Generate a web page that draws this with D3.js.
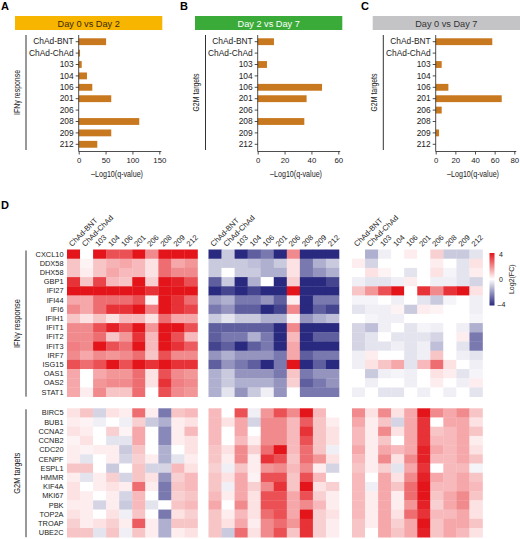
<!DOCTYPE html>
<html>
<head>
<meta charset="utf-8">
<script src="https://cdn.jsdelivr.net/npm/d3@7"></script>
<style>
  body { margin: 0; background: #fff; }
  svg { display: block; font-family: "Liberation Sans", Arial, sans-serif; }
  .narrow { font-family: "Liberation Sans Narrow", "Liberation Sans", sans-serif; }
  .axis path, .axis line { stroke: #222; stroke-width: 0.8; }
  .axis text { fill: #222; }
</style>
</head>
<body>
<svg id="fig" width="520" height="539"></svg>
<script>
// ---- data ----
const samples = ['ChAd-BNT', 'ChAd-ChAd', '103', '104', '106', '201', '206', '208', '209', '212'];

const barDay0vs2 = [51, 2.5, 5.6, 15.4, 25.3, 60.6, 0, 112.7, 60.6, 34.6];
const barDay2vs7 = [12.1, 0, 6.9, 0, 47.9, 36.4, 0, 34.7, 0, 0];
const barDay0vs7 = [57.6, 0, 6.1, 0, 12.9, 67.2, 6.1, 0, 3.4, 0];

const ifnGenes = ['CXCL10', 'DDX58', 'DHX58', 'GBP1', 'IFI27', 'IFI44', 'IFI6', 'IFIH1',
  'IFIT1', 'IFIT2', 'IFIT3', 'IRF7', 'ISG15', 'OAS1', 'OAS2', 'STAT1'];
const g2mGenes = ['BIRC5', 'BUB1', 'CCNA2', 'CCNB2', 'CDC20', 'CENPF', 'ESPL1', 'HMMR',
  'KIF4A', 'MKI67', 'PBK', 'TOP2A', 'TROAP', 'UBE2C'];

// log2 fold change, rows = genes, cols = samples
const ifnDay0vs2 = [
  [4, 0, 4, 3, 3, 4, 2, 4, 4, 4],
  [1, 0.2, 1, 1.3, 1.5, 1.2, 0.5, 2.5, 1.5, 1.8],
  [1, 0.3, 1, 1.5, 1.2, 1.2, 0.5, 2.5, 2, 2],
  [3.5, 1, 3.2, 1.2, 1, 4, 0.8, 4, 3.8, 3],
  [4, 4, 4, 4, 4, 4, 3.5, 4, 4, 4],
  [1.5, 1.5, 2.5, 2.5, 2.5, 3, 0.2, 4, 3.5, 2.5],
  [2, 1.5, 2.5, 3.5, 3.5, 4, 2.2, 4, 3.5, 3.2],
  [1, 0.5, 1, 0.5, 1.2, 1.2, 0.5, 2.5, 1.5, 1.5],
  [2, 2, 3, 3.8, 3, 4, 1.8, 4, 4, 3],
  [2, 2, 2.5, 1, 1.8, 3.5, 1.2, 4, 3, 1.2],
  [2.2, 2, 4, 3, 2.5, 4, 1.2, 4, 3.5, 2.8],
  [2, 1.5, 2, 1.8, 2, 2.5, 1, 3, 2, 2],
  [3, 2.5, 3, 4, 3, 4, 3.5, 4, 3.5, 3.5],
  [1.5, 0, 1.5, 1.8, 1.8, 2.5, 0.5, 3, 2, 1.8],
  [1.5, 0, 1.8, 2, 2, 2.5, 0.5, 3.5, 2.2, 2],
  [1.5, 0.3, 2, 1, 1, 2.5, 0, 3, 2, 1.8]
];
const ifnDay2vs7 = [
  [-4, -1, -4, -3, -2.5, -4, 2, -4, -4, -4],
  [-1, -1, -1, -1.2, -1.5, -1, 0.5, -2.5, -1.5, -1],
  [-1, 0, -1, -1, -1.5, -1.5, 0.5, -2.5, -2, -1.5],
  [-3, -1, -4, -1.5, 0, -4, 0.8, -4, -4, -3.5],
  [-4, -3.5, -4, -3.5, -4, -4, 4, -4, -4, -4],
  [-1.8, -1.5, -2.5, -2.5, -2, -3, 0.3, -4, -2.5, -2.5],
  [-2.5, -2, -3, -3, -4, -3.5, 2, -4, -3, -3.5],
  [-1, -0.5, -1, -1, -1.5, -1.5, 0.2, -2, -1.5, -1.2],
  [-3, -3, -3, -3, -3, -4, 2, -4, -4, -4],
  [-3, -2.5, -2.5, -1.5, -2.5, -4, 1.2, -4, -3, -3],
  [-3.5, -3, -4, -3, -2.5, -4, 1.5, -4, -4, -4],
  [-2, -1.5, -2, -2, -2, -2.5, 1.5, -3, -2.5, -2.5],
  [-3, -2, -2.5, -3, -4, -2.5, 4, -4, -3, -4],
  [-1.5, -1, -2, -2, -2, -2.5, 1, -2.5, -2, -2],
  [-1.5, -1, -1.5, -1.5, -1.5, -2, 0.8, -3, -2.5, -2],
  [-1.5, -0.5, -2, -1, -0.3, -2, 0, -2.5, -2.5, -2.5]
];
const ifnDay0vs7 = [
  [0, -1.5, -0.3, 0, 0.3, 0, 0.8, -1, -1, -0.5],
  [0.3, -0.8, 0, 0, 0, 0, 0.3, 0, -0.5, 0.5],
  [0, 0.5, 0.2, 0, -0.5, 0, 0.5, -0.2, -0.5, 0.3],
  [-0.3, -0.5, -0.5, -0.3, 0.3, 0, -0.3, -0.3, -0.5, -0.8],
  [1, 1.8, 3, 4, 0, 3.5, 2, 3.5, 4, 0.5],
  [-0.2, -0.2, 0, -0.3, 0, -0.5, -1, -0.2, 0, -0.3],
  [-0.5, -0.3, -0.3, 0.2, -1, 0.3, 0.2, 0, 0, -0.3],
  [0, -0.2, -0.3, -0.3, 0, 0, 0, 0, 0, -0.2],
  [-0.8, -1.2, -0.3, 0, -0.5, -0.2, -0.3, 0, -0.3, -1.5],
  [-0.8, -0.5, 0, -0.5, -0.5, -0.5, -0.8, 0, 0.3, -2.5],
  [-0.8, -0.5, -0.5, -0.3, -0.5, -0.3, -1.2, 0, -0.5, -2.5],
  [-0.3, 0.3, 0, 0, -0.5, -0.3, 1, 0, -0.3, -0.5],
  [-0.3, 0.5, 1, 1.5, -0.5, 1.2, 2.5, 0.5, 0, -0.3],
  [0, -1, -0.3, -0.2, -0.3, 0, 0.5, 0.3, -0.5, -0.2],
  [0, -0.3, 0, 0, -0.3, 0, 0.3, 0, -0.3, 0.3],
  [-0.3, 0, -0.5, -0.5, 0, -0.3, 0, -0.3, 0, -0.5]
];
const g2mDay0vs2 = [
  [0.5, 1, -0.8, 0.5, 0.3, 2.5, 0.3, -2.5, 1, 1.2],
  [0.3, 0.2, -0.3, 0, -0.3, 0.8, -1, -1.5, 0.3, 0.5],
  [0.5, 0.3, 0, 0.8, 0.2, 1.5, 0, -2.2, 0.3, 1.2],
  [0.2, 0.5, 0, -0.5, -0.5, 1.5, 0, -2.2, 0.3, 0.5],
  [0.3, 0.2, 0.3, 0.3, -1, 1, 0, -1.5, 0, 0.5],
  [0.3, -0.5, 0, 0.3, -0.8, 0.8, 0.3, -1.5, -0.5, 0.3],
  [1, 1, 0, -1, 0, 1, -0.8, -0.8, 1.2, 0.5],
  [0.3, -0.5, 0.3, 0.8, -0.8, 1, 0.5, -2, 0.8, 1.2],
  [0.5, 0, 0.3, 0.5, 0.3, 2.5, 0.3, -2.5, 1, 1.2],
  [0.5, 0.3, 0, 0.3, -0.8, 1.2, 0, -2.5, 0.8, 1],
  [0.3, 0.3, -0.8, 0.3, -1, 1.2, -0.5, 0, 1, 1.2],
  [0.5, 0.3, 0, 0.5, -0.3, 1, 0, -2.5, 0.5, 0.8],
  [0.8, 0.3, 0.5, 0.8, 0.3, 2.8, 0.3, -1.5, 1, 1],
  [1, 1, -0.5, 1, -0.3, 1, 0.3, -1.5, 0.3, 0.5]
];
const g2mDay2vs7 = [
  [1.2, 0, 3, -0.3, 1.8, 3, 2, 4, 1.2, 0],
  [1.2, 0.5, 1.5, -0.8, 2, 2, 1.2, 2.8, 1, 0.3],
  [1.2, 0, 1.5, 0, 2, 2, 1.2, 3.5, 1, 0.5],
  [1.2, 0, 1.2, 0.3, 2, 2, 1.2, 3, 1, 0.5],
  [1, 0.5, 2, 0.8, 2.5, 4, 1.2, 2.5, 1, -0.3],
  [1, 0.3, 2, 0.3, 3.5, 3, 1, 2.5, 1.8, 0.5],
  [0.8, -0.3, 1, 0.3, 1.8, 2, 1.2, 2, 0.3, -0.8],
  [1, 0.5, 1.5, 0.2, 3, 3, 1, 3, 1.2, 0],
  [1, -0.3, 1.5, 0.8, 2, 3.5, 1, 4, 0.5, 0.8],
  [1.2, 0.3, 1.5, 0.5, 3, 3, 1.5, 3, 0.8, 0.3],
  [1.5, 0, 2, 0.5, 3, 3, 1.5, 2, 1.2, 0.3],
  [1, 0.3, 1.2, 0.5, 2.5, 3, 1.5, 4, 0.8, 0.5],
  [1, 0.5, 1.5, 0.3, 2, 2.5, 1.8, 3.5, 0.8, 0.3],
  [1, -1, 2.5, 0.5, 2, 3, 1, 3.5, 0.8, 0.3]
];
const g2mDay0vs7 = [
  [2, 0.5, 2, 0.5, 1.5, 4, 2, 1.5, 2, 1],
  [1.5, 0.3, 1, -0.8, 1.5, 3.5, 0, 1.5, 1.5, 0.5],
  [1.2, 0.3, 2, 0.5, 1.5, 3.5, 1, 1.2, 1.5, 1],
  [1.2, 0.3, 1, 0, 1.5, 3.5, 1.2, 1.2, 1.5, 0.3],
  [1.5, 0.3, 1.5, 1.2, 1.5, 3.8, 1.5, 1.2, 1.5, 0.5],
  [1.2, 0.3, 2, 0.5, 2, 3.8, 1.2, 1.2, 1.5, 1],
  [1, 0.3, 0.8, -0.5, 1.5, 3.5, 0, 1.2, 1.2, -0.2],
  [1.2, 0, 1.5, 0.5, 2, 3.8, 1.5, 1.2, 1.5, 1],
  [1.2, -0.3, 1.5, 1, 2.5, 4, 1.2, 1.2, 1.5, 1.2],
  [1.2, 0.3, 1.5, 0.3, 2.5, 4, 1, 1.5, 2, 1],
  [1.2, 0.3, 1.5, 0.3, 1.8, 3.8, 0.8, 1.5, 2, 0.5],
  [1.2, 0.3, 1.5, 0.5, 2.5, 3.5, 1.2, 1.2, 1.5, 0.5],
  [1, 0.3, 1.5, 0.8, 1.5, 4, 1, 1.5, 1.5, 1],
  [1, 0, 1.5, 1, 1.5, 3.8, 1, 1.5, 1.2, 0.5]
];

const colorTicks = [4, 0, -4];

// ---- drawing ----
const svg = d3.select('#fig'),
    barColor = '#c8781f',
    heat = d3.scaleLinear().domain([-4, 0, 4])
        .range(['#29297f', '#ffffff', '#e3151b']).clamp(true);

function panelLetter(t, x, y) {
    svg.append('text').attr('x', x).attr('y', y)
        .attr('font-size', 11).attr('font-weight', 'bold').text(t);
}

// condensed look: squeeze the text into the width it has in the figure
function narrowText(sel, len) {
    return sel.attr('class', 'narrow')
        .attr('textLength', len)
        .attr('lengthAdjust', 'spacingAndGlyphs');
}

function groupLabel(text, x, lineX, y0, y1, len) {
    svg.append('line')
        .attr('x1', lineX).attr('x2', lineX).attr('y1', y0).attr('y2', y1)
        .attr('stroke', '#333').attr('stroke-width', 1);
    const mid = (y0 + y1) / 2;
    narrowText(svg.append('text'), len)
        .attr('transform', 'translate(' + x + ',' + (mid + len / 2) + ') rotate(-90)')
        .attr('font-size', 8.5).attr('fill', '#222')
        .text(text);
}

function barPanel(opts) {
    const g = svg.append('g');

    // title banner
    g.append('rect')
        .attr('x', opts.banner[0]).attr('y', 16)
        .attr('width', opts.banner[1] - opts.banner[0]).attr('height', 14)
        .attr('fill', opts.fill);
    g.append('text')
        .attr('x', (opts.banner[0] + opts.banner[1]) / 2).attr('y', 26.5)
        .attr('text-anchor', 'middle').attr('font-size', 9.2).attr('fill', opts.textFill)
        .text(opts.title);

    const x = d3.scaleLinear().domain([0, opts.max]).range([opts.x0, opts.x1]),
        y = d3.scaleBand().domain(samples).range([36, 150])
            .paddingInner(0.4).paddingOuter(0.2);

    g.selectAll('rect.bar')
        .data(opts.values)
        .join('rect')
        .attr('class', 'bar')
        .attr('x', x(0))
        .attr('y', (d, i) => y(samples[i]))
        .attr('width', d => x(d) - x(0))
        .attr('height', y.bandwidth())
        .attr('fill', barColor);

    const yAxis = g.append('g').attr('class', 'axis')
        .attr('transform', 'translate(' + x(0) + ',0)')
        .call(d3.axisLeft(y).tickSize(3).tickPadding(2).tickSizeOuter(0));
    yAxis.selectAll('text').attr('font-size', 8.4).attr('font-family', '"Liberation Sans", Arial, sans-serif');
    yAxis.select('.domain').attr('d', 'M0,35V151.5');

    const xAxis = g.append('g').attr('class', 'axis')
        .attr('transform', 'translate(0,151.5)')
        .call(d3.axisBottom(x).tickValues(opts.ticks).tickSize(3).tickPadding(3).tickSizeOuter(0));
    xAxis.selectAll('text').attr('font-size', 7.8).attr('font-family', '"Liberation Sans", Arial, sans-serif');
    xAxis.select('.domain').attr('d', 'M' + x(0) + ',0H' + (opts.x1 + 2));

    narrowText(g.append('text'), 52)
        .attr('x', (opts.x0 + opts.x1) / 2 - 28).attr('y', 177)
        .attr('font-size', 9).attr('fill', '#222')
        .text('\u2013Log10(q-value)');

    groupLabel(opts.side, opts.sideX, opts.sideLine, 35, 150, opts.sideLen);
}

panelLetter('A', 1, 10);
panelLetter('B', 180, 10);
panelLetter('C', 361, 10);
panelLetter('D', 1, 209);

barPanel({ values: barDay0vs2, max: 150, ticks: [0, 50, 100, 150], x0: 78.7, x1: 159.3,
    banner: [15, 162.3], fill: '#f7b500', textFill: '#3a2a00', title: 'Day 0 vs Day 2',
    side: 'IFN\u03b3 response', sideX: 19.5, sideLine: 26, sideLen: 45 });
barPanel({ values: barDay2vs7, max: 60, ticks: [0, 20, 40, 60], x0: 257.7, x1: 338.3,
    banner: [195, 342.3], fill: '#3aab39', textFill: '#ffffff', title: 'Day 2 vs Day 7',
    side: 'G2M targets', sideX: 198.5, sideLine: 205.5, sideLen: 38 });
barPanel({ values: barDay0vs7, max: 80, ticks: [0, 20, 40, 60, 80], x0: 435.7, x1: 514.3,
    banner: [372.7, 520], fill: '#c4c4c6', textFill: '#333333', title: 'Day 0 vs Day 7',
    side: 'G2M targets', sideX: 376.5, sideLine: 383.3, sideLen: 38 });

// ---- heatmaps ----
const blocks = [
    { x0: 67, ifn: ifnDay0vs2, g2m: g2mDay0vs2 },
    { x0: 208.5, ifn: ifnDay2vs7, g2m: g2mDay2vs7 },
    { x0: 352, ifn: ifnDay0vs7, g2m: g2mDay0vs7 }
];
const groups = [
    { key: 'ifn', genes: ifnGenes, y0: 249.5, y1: 396.7, label: 'IFN\u03b3 response', len: 49 },
    { key: 'g2m', genes: g2mGenes, y0: 408.3, y1: 537.2, label: 'G2M targets', len: 41 }
];

blocks.forEach((b, bi) => {
    const x = d3.scaleBand().domain(samples).range([b.x0, b.x0 + 130.5]);

    groups.forEach(grp => {
        const y = d3.scaleBand().domain(grp.genes).range([grp.y0, grp.y1]),
            cells = [];
        b[grp.key].forEach((row, ri) => row.forEach((v, ci) => {
            cells.push({ gene: grp.genes[ri], sample: samples[ci], v: v });
        }));

        svg.append('g').selectAll('rect')
            .data(cells)
            .join('rect')
            .attr('x', d => x(d.sample))
            .attr('y', d => y(d.gene))
            .attr('width', x.bandwidth() + 0.3)
            .attr('height', y.bandwidth() + 0.3)
            .attr('fill', d => heat(d.v));

        if (bi === 0) {
            svg.append('g').selectAll('text')
                .data(grp.genes)
                .join('text')
                .attr('x', 63.5)
                .attr('y', d => y(d) + y.bandwidth() / 2)
                .attr('dy', '0.35em')
                .attr('text-anchor', 'end')
                .attr('font-size', 7.4)
                .attr('fill', '#222')
                .text(d => d);
            groupLabel(grp.label, 19.5, 26, grp.y0 + 1, grp.y1, grp.len);
        }
    });

    // rotated sample labels
    svg.append('g').selectAll('text')
        .data(samples)
        .join('text')
        .attr('transform', d => 'translate(' + (x(d) + x.bandwidth() / 2 - 1.5) + ',247) rotate(-45)')
        .attr('font-size', 7.6)
        .attr('fill', '#222')
        .text(d => d);
});

// ---- colour legend ----
const defs = svg.append('defs'),
    grad = defs.append('linearGradient').attr('id', 'lfc')
        .attr('x1', 0).attr('x2', 0).attr('y1', 0).attr('y2', 1);
[4, 2, 0, -2, -4].forEach((v, i) => {
    grad.append('stop').attr('offset', (i * 25) + '%').attr('stop-color', heat(v));
});

const cy = d3.scaleLinear().domain([4, -4]).range([253, 305.5]);
svg.append('rect')
    .attr('x', 489.5).attr('y', cy(4)).attr('width', 5)
    .attr('height', cy(-4) - cy(4))
    .attr('fill', 'url(#lfc)');
svg.append('g').selectAll('text')
    .data(colorTicks)
    .join('text')
    .attr('x', d => d < 0 ? 497.5 : 499)
    .attr('y', d => cy(d) + (d === 4 ? 2 : d === -4 ? -1 : 0))
    .attr('dy', '0.35em')
    .attr('font-size', 7)
    .attr('fill', '#222')
    .text(d => d < 0 ? '\u2013' + Math.abs(d) : d);
svg.append('text')
    .attr('transform', 'translate(514,' + ((cy(4) + cy(-4)) / 2) + ') rotate(-90)')
    .attr('text-anchor', 'middle')
    .attr('font-size', 7)
    .attr('fill', '#222')
    .text('Log2(FC)');
</script>
</body>
</html>
